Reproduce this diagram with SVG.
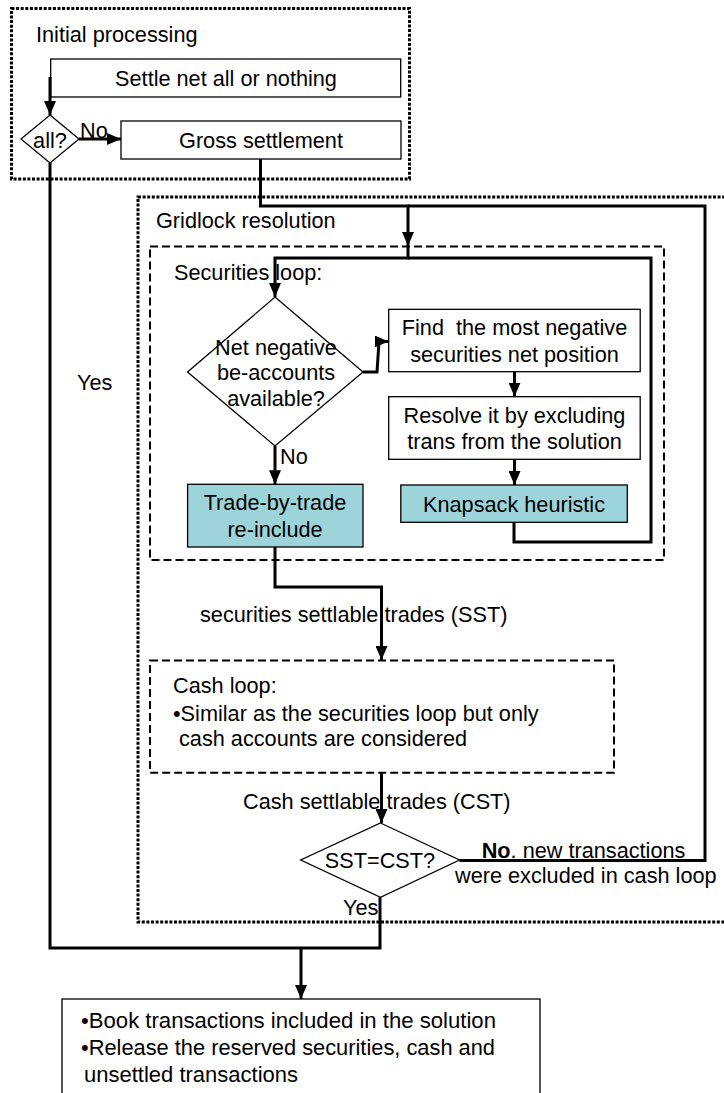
<svg xmlns="http://www.w3.org/2000/svg" width="724" height="1093" viewBox="0 0 724 1093">
<style>
text{font-family:"Liberation Sans",Arial,sans-serif;font-size:21.7px;fill:#000;white-space:pre}
.c{text-anchor:middle}
.big{font-size:22.6px}
.box{fill:#fff;stroke:#000;stroke-width:1.3}
.teal{fill:#9dd4d9;stroke:#000;stroke-width:1.3}
.dot{fill:none;stroke:#000;stroke-width:3;stroke-dasharray:3 1.6}
.dash{fill:none;stroke:#000;stroke-width:2;stroke-dasharray:8 4}
.ln{fill:none;stroke:#000;stroke-width:3}
.ar{fill:none;stroke:#000;stroke-width:3;marker-end:url(#ah)}
</style>
<defs>
<marker id="ah" markerUnits="userSpaceOnUse" markerWidth="14" markerHeight="12" refX="14" refY="6" orient="auto" viewBox="0 0 14 12">
<path d="M0,0 L14,6 L0,12 z" fill="#000"/>
</marker>
</defs>
<rect width="724" height="1093" fill="#fff"/>
<g id="initial-processing">
<rect class="dot" x="11.5" y="8.5" width="398" height="170.5"/>
<text x="36" y="42">Initial processing</text>
</g>
<g id="gridlock-resolution">
<rect class="dot" x="138" y="197" width="600" height="725"/>
<text x="156" y="228">Gridlock resolution</text>
</g>
<g id="securities-loop">
<rect class="dash" x="150" y="246.5" width="514" height="313.5"/>
<text x="174" y="280">Securities loop:</text>
</g>
<g id="settle-net">
<rect class="box" x="50.7" y="59" width="350" height="38"/>
<text class="c" x="226" y="86">Settle net all or nothing</text>
</g>
<g id="all">
<path class="box" d="M50,115 L79,139 L50,163 L21,139 z"/>
<text class="c" x="50" y="148">all?</text>
</g>
<g id="gross-settlement">
<rect class="box" x="121" y="121" width="280" height="38"/>
<text class="c" x="261" y="148">Gross settlement</text>
</g>
<g id="net-negative">
<path class="box" d="M275,297 L363,372 L275,446 L187.5,372 z"/>
<text class="c" x="276" y="355">Net negative</text>
<text class="c" x="276" y="380">be-accounts</text>
<text class="c" x="276" y="406">available?</text>
</g>
<g id="find">
<rect class="box" x="388.7" y="309.3" width="251.5" height="62.4"/>
<text class="c" x="514.5" y="335">Find  the most negative</text>
<text class="c" x="514.5" y="362">securities net position</text>
</g>
<g id="resolve">
<rect class="box" x="388.7" y="396.7" width="251.5" height="62.6"/>
<text class="c" x="514.5" y="423">Resolve it by excluding</text>
<text class="c" x="514.5" y="449">trans from the solution</text>
</g>
<g id="knapsack">
<rect class="teal" x="400.8" y="485" width="226.5" height="37.3"/>
<text class="c" x="514" y="512">Knapsack heuristic</text>
</g>
<g id="trade-by-trade">
<rect class="teal" x="187.6" y="484.3" width="175.4" height="62.7"/>
<text class="c" x="275" y="510">Trade-by-trade</text>
<text class="c" x="275" y="537">re-include</text>
</g>
<g id="cash-loop">
<rect class="dash" x="150" y="660.5" width="464" height="112.2"/>
<text x="173" y="693">Cash loop:</text>
<text x="173" y="721">•Similar as the securities loop but only</text>
<text x="173" y="746"> cash accounts are considered</text>
</g>
<g id="sst-cst">
<path class="box" d="M380.5,823 L459.5,860 L380.5,897.3 L300.7,860 z"/>
<text class="c" x="380" y="868">SST=CST?</text>
</g>
<g id="book">
<rect class="box" x="62" y="999" width="478" height="110"/>
<text class="big" x="81" y="1028" textLength="415" lengthAdjust="spacingAndGlyphs">•Book transactions included in the solution</text>
<text class="big" x="81" y="1055" textLength="414" lengthAdjust="spacingAndGlyphs">•Release the reserved securities, cash and</text>
<text class="big" x="84" y="1082" textLength="214" lengthAdjust="spacingAndGlyphs">unsettled transactions</text>
</g>
<g id="connectors">
<path class="ar" d="M50,77 V115"/>
<path class="ar" d="M79,139 H121"/>
<path class="ar" d="M260.5,159 V206 H408 V246"/>
<path class="ln" d="M459.5,860.5 H705 V206 H408"/>
<path class="ar" d="M408,246 V258 H275 V297"/>
<path class="ln" d="M514,522 V542 H651 V258 H408"/>
<path class="ar" d="M275,446 V484.3"/>
<path class="ar" d="M363,372 H377 L379,341.5 H388.7"/>
<path class="ar" d="M514.5,371.7 V396.7"/>
<path class="ar" d="M514.5,459.3 V485"/>
<path class="ar" d="M275,547 V587 H381.5 V660"/>
<path class="ar" d="M381.5,772.7 V823"/>
<path class="ln" d="M50,163 V948 H380 V897.3"/>
<path class="ar" d="M301,948 V999"/>
</g>
<g id="labels">
<text x="80" y="138">No</text>
<text x="77" y="390">Yes</text>
<text x="280" y="464">No</text>
<text x="200" y="622">securities settlable trades (SST)</text>
<text x="243" y="809">Cash settlable trades (CST)</text>
<text x="481.7" y="858"><tspan font-weight="bold">No</tspan>. new transactions</text>
<text x="455" y="883">were excluded in cash loop</text>
<text x="343" y="915">Yes</text>
</g>
</svg>
